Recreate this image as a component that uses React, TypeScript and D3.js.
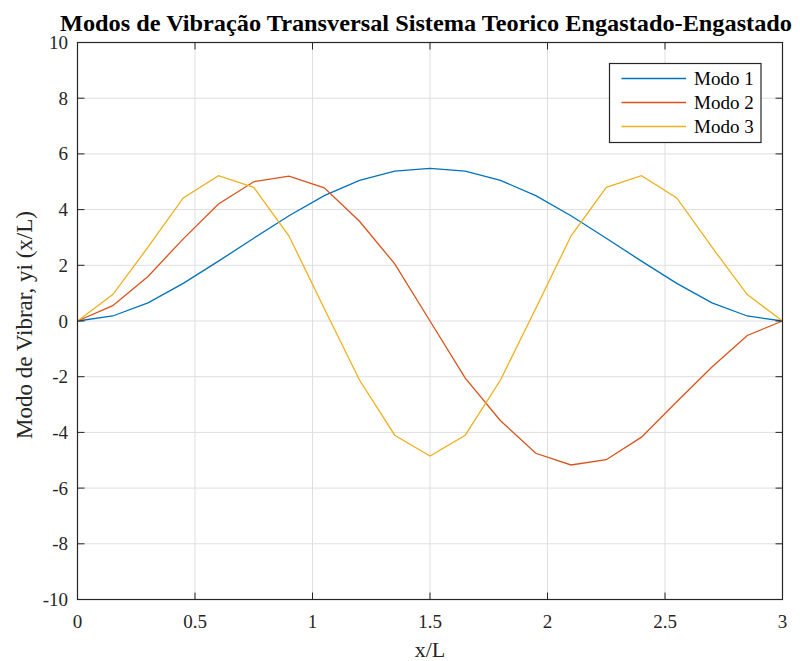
import React from "react";
import * as d3 from "d3";

const xValues = [0, 0.15, 0.3, 0.45, 0.6, 0.75, 0.9, 1.05, 1.2, 1.35, 1.5, 1.65, 1.8, 1.95, 2.1, 2.25, 2.4, 2.55, 2.7, 2.85, 3];
const modo1 = [0, 0.18, 0.65, 1.35, 2.15, 2.97, 3.78, 4.5, 5.05, 5.38, 5.48, 5.38, 5.05, 4.5, 3.78, 2.97, 2.15, 1.35, 0.65, 0.18, 0];
const modo2 = [0, 0.55, 1.6, 2.95, 4.2, 5.0, 5.2, 4.78, 3.58, 2.05, 0, -2.05, -3.58, -4.75, -5.17, -4.98, -4.17, -2.9, -1.65, -0.52, 0];
const modo3 = [0, 0.95, 2.65, 4.42, 5.22, 4.8, 3.05, 0.45, -2.12, -4.1, -4.85, -4.1, -2.12, 0.45, 3.05, 4.8, 5.22, 4.42, 2.65, 0.95, 0];
const seriesNames = ["Modo 1", "Modo 2", "Modo 3"];
const seriesColors = ["#0072BD", "#D95319", "#EDB120"];
const xTicks = [0, 0.5, 1, 1.5, 2, 2.5, 3];
const yTicks = [-10, -8, -6, -4, -2, 0, 2, 4, 6, 8, 10];
const title = "Modos de Vibração Transversal Sistema Teorico Engastado-Engastado";
const xLabel = "x/L";
const yLabel = "Modo de Vibrar, yi (x/L)";

export default function App() {
  const W = 800, H = 661;
  const left = 77.5, right = 782.5, top = 42.5, bottom = 599.5;
  const x = d3.scaleLinear().domain([0, 3]).range([left, right]);
  const y = d3.scaleLinear().domain([-10, 10]).range([bottom, top]);
  const series = [modo1, modo2, modo3];
  const line = d3.line<number>().x((_, i) => x(xValues[i])).y((d) => y(d));
  const font = "'Liberation Serif', 'Times New Roman', serif";
  const axisColor = "#262626";
  const gridColor = "#dfdfdf";
  const tickLen = 7;
  const legX = 609.5, legY = 63.5, legW = 151.5, legH = 79;
  return (
    <svg width={W} height={H} style={{ position: "absolute", left: 0, top: 0, background: "#fff" }}>
      <rect x={0} y={0} width={W} height={H} fill="#fff" />
      {xTicks.map((t) => (
        <line key={"gx" + t} x1={x(t)} x2={x(t)} y1={top} y2={bottom} stroke={gridColor} strokeWidth={1} />
      ))}
      {yTicks.map((t) => (
        <line key={"gy" + t} x1={left} x2={right} y1={y(t)} y2={y(t)} stroke={gridColor} strokeWidth={1} />
      ))}
      {series.map((s, i) => (
        <path key={"s" + i} d={line(s) || ""} fill="none" stroke={seriesColors[i]} strokeWidth={1.3} />
      ))}
      <rect x={left} y={top} width={right - left} height={bottom - top} fill="none" stroke={axisColor} strokeWidth={1.2} />
      {xTicks.map((t) => (
        <g key={"tx" + t}>
          <line x1={x(t)} x2={x(t)} y1={bottom} y2={bottom - tickLen} stroke={axisColor} />
          <line x1={x(t)} x2={x(t)} y1={top} y2={top + tickLen} stroke={axisColor} />
          <text x={x(t)} y={621} textAnchor="middle" dominantBaseline="central" fontFamily={font} fontSize={19} fill={axisColor}>
            {String(t)}
          </text>
        </g>
      ))}
      {yTicks.map((t) => (
        <g key={"ty" + t}>
          <line x1={left} x2={left + tickLen} y1={y(t)} y2={y(t)} stroke={axisColor} />
          <line x1={right} x2={right - tickLen} y1={y(t)} y2={y(t)} stroke={axisColor} />
          <text x={68} y={y(t)} textAnchor="end" dominantBaseline="central" fontFamily={font} fontSize={19} fill={axisColor}>
            {String(t)}
          </text>
        </g>
      ))}
      <text x={(left + right) / 2 - 4} y={31} textAnchor="middle" fontFamily={font} fontWeight="bold" fontSize={24} fill="#000" textLength={732} lengthAdjust="spacingAndGlyphs">
        {title}
      </text>
      <text x={(left + right) / 2} y={657} textAnchor="middle" fontFamily={font} fontSize={22} fill={axisColor}>
        {xLabel}
      </text>
      <text transform={`translate(32, ${(top + bottom) / 2 + 4}) rotate(-90)`} textAnchor="middle" fontFamily={font} fontSize={23} fill={axisColor}>
        {yLabel}
      </text>
      <rect x={legX} y={legY} width={legW} height={legH} fill="#fff" stroke={axisColor} strokeWidth={1.2} />
      {seriesNames.map((n, i) => (
        <g key={"l" + i}>
          <line x1={621.5} x2={686} y1={78.5 + i * 24} y2={78.5 + i * 24} stroke={seriesColors[i]} strokeWidth={1.3} />
          <text x={694} y={78.5 + i * 24} dominantBaseline="central" fontFamily={font} fontSize={19} fill="#000">
            {n}
          </text>
        </g>
      ))}
    </svg>
  );
}
